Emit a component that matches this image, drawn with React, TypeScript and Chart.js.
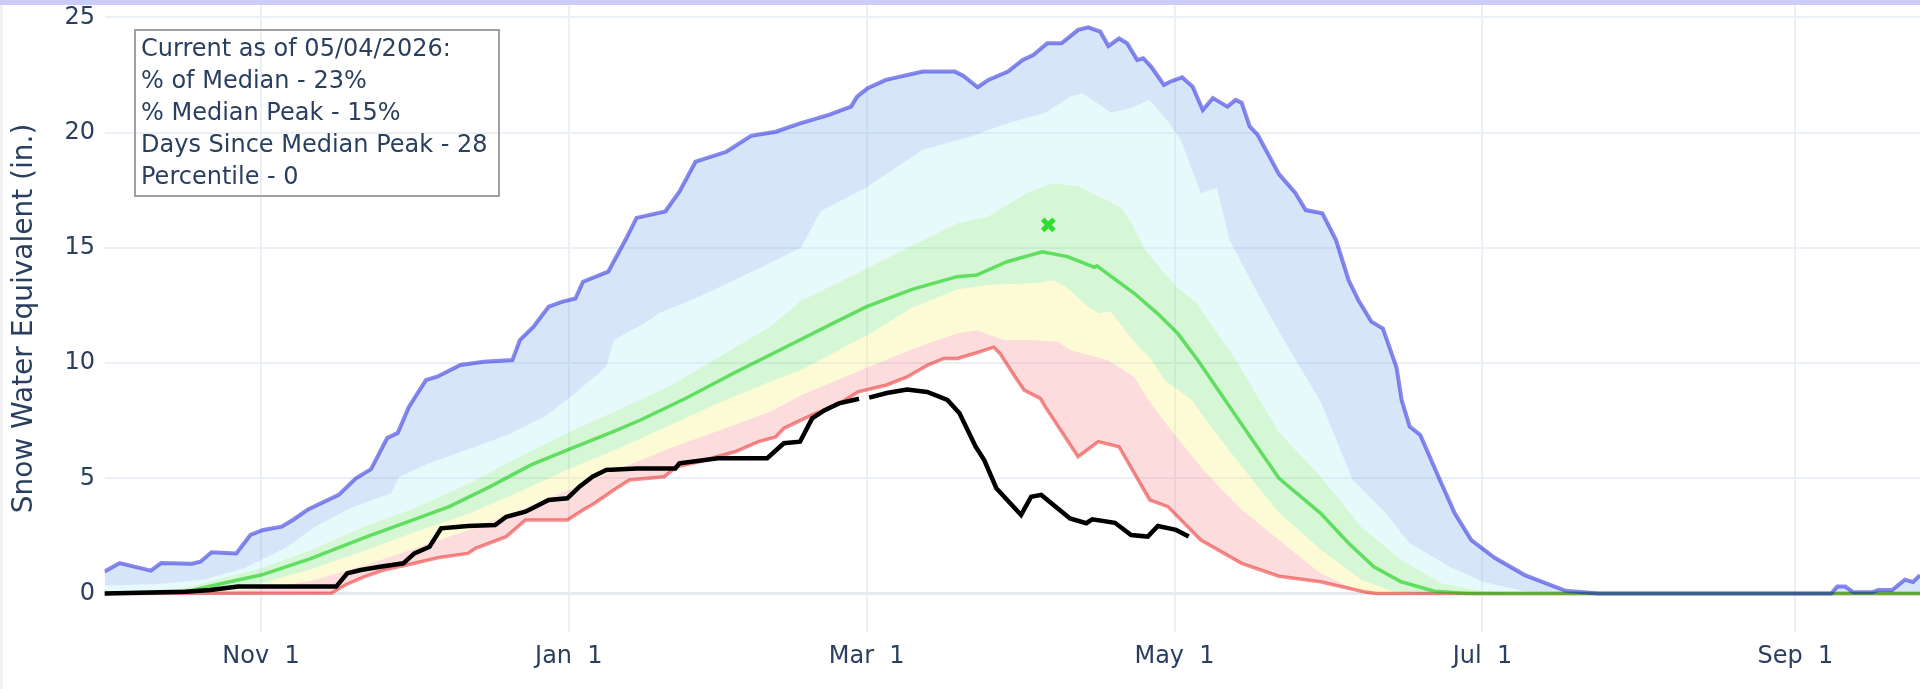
import React, { useEffect, useRef } from 'react';
import { Chart, registerables } from 'chart.js';

Chart.register(...registerables);

// x = days since Oct 1 (water year), y = snow water equivalent (in.)
const tickDays = [31, 92, 151, 212, 273, 335];
const tickLabels = ['Nov  1', 'Jan  1', 'Mar  1', 'May  1', 'Jul  1', 'Sep  1'];
const yTicks = [0, 5, 10, 15, 20, 25];

const infoLines = [
  'Current as of 05/04/2026:',
  '% of Median - 23%',
  '% Median Peak - 15%',
  'Days Since Median Peak - 28',
  'Percentile - 0',
];

const minSwe: [number, number][] = [
  [0, 0], [45, 0.02], [47.7, 0.37], [51.5, 0.73], [55.3, 1.02], [61.4, 1.31], [66, 1.55], [72, 1.74],
  [73.5, 1.96], [79.6, 2.47], [83.4, 3.19], [91.7, 3.19], [94.8, 3.62], [97, 3.91], [100.9, 4.49],
  [104, 4.93], [110.9, 5.07], [113.3, 5.5], [117.8, 5.72], [124.9, 6.15], [129.6, 6.59], [133, 6.8],
  [134.6, 7.17], [140.2, 7.75], [145.1, 8.18], [149.3, 8.75], [155, 9.05], [159, 9.4], [163, 9.9],
  [166.3, 10.2], [169, 10.2], [172.8, 10.45], [176.2, 10.69], [177.4, 10.42], [180.4, 9.41],
  [182.2, 8.83], [185.4, 8.47], [186.4, 8.1], [192.9, 5.94], [196.9, 6.59], [201, 6.37], [207.1, 4.06],
  [210.7, 3.77], [217.2, 2.32], [225.3, 1.31], [232.7, 0.75], [240.9, 0.51], [249.5, 0.08], [252, 0],
  [359.7, 0],
];

const p10Swe: [number, number][] = [
  [0, 0], [20, 0.04], [31, 0.2], [41, 0.55], [52, 1.25], [62, 2.0], [72, 2.75], [82, 3.6], [92, 4.5],
  [102, 5.4], [112, 6.3], [122, 7.1], [132, 7.9], [138, 8.6], [151, 9.8], [160, 10.6], [169, 11.3],
  [172.8, 11.43], [178.2, 11.0], [184, 11.0], [188.8, 10.93], [191.4, 10.57], [198.7, 10.13], [204, 9.41],
  [206.8, 8.4], [212, 6.9], [218, 5.3], [225, 3.7], [232.7, 2.32], [240.9, 0.88], [247.6, 0.2], [250, 0],
  [359.7, 0],
];

const p30Swe: [number, number][] = [
  [0, 0], [15, 0.05], [24, 0.25], [31, 0.45], [41, 1.05], [52, 1.9], [62, 2.7], [72, 3.45], [82, 4.4],
  [92, 5.4], [102, 6.3], [112, 7.3], [122, 8.3], [132, 9.2], [138, 9.7], [151, 11.2], [160, 12.4],
  [169, 13.2], [175.5, 13.4], [184.2, 13.46], [188, 13.6], [190.5, 13.3], [194.9, 12.45], [197, 12.16],
  [199.4, 12.23], [204, 10.93], [207.5, 10.13], [210, 9.27], [215.4, 8.4], [218, 7.6], [225, 5.6],
  [232.7, 3.5], [241, 1.9], [249, 0.6], [255, 0.1], [260, 0], [359.7, 0],
];

const p70Swe: [number, number][] = [
  [0, 0.05], [15, 0.2], [24, 0.7], [31, 1.1], [41, 1.9], [52, 2.95], [62, 3.75], [72, 4.75], [82, 5.9],
  [92, 7.0], [102, 8.0], [112, 9.0], [122, 10.3], [132, 11.6], [138, 12.7], [151, 14.1], [160, 15.1],
  [169, 16.07], [175, 16.35], [183.2, 17.44], [187.9, 17.8], [193.2, 17.66], [195.8, 17.37],
  [201.2, 16.79], [203.5, 16.07], [206.2, 14.9], [212.4, 13.3], [216.4, 12.6], [224, 10.2], [232.7, 7.0],
  [241, 5.07], [249, 2.9], [257, 1.45], [265, 0.44], [273, 0.1], [280, 0], [359.7, 0],
];

const p90Swe: [number, number][] = [
  [0, 0.35], [10, 0.4], [19.7, 0.6], [27.7, 1.1], [36, 2.0], [41.7, 2.9], [49.3, 3.77], [56.8, 4.35],
  [58.4, 5.07], [64.4, 5.66], [73.5, 6.37], [80, 6.9], [87.2, 7.67], [93.3, 8.7], [99.4, 9.84],
  [100.9, 11.0], [107, 11.73], [110, 12.17], [117.7, 12.87], [129, 14.04], [138, 15.0], [141.9, 16.6],
  [150.8, 17.6], [162.1, 19.26], [171.8, 19.84], [178.2, 20.35], [186.4, 20.86], [191.3, 21.56],
  [193.7, 21.7], [196.2, 21.35], [199.4, 20.86], [203.5, 21.07], [207, 21.43], [210.7, 20.48],
  [213.2, 19.7], [217.2, 17.37], [220.4, 17.6], [222.9, 15.34], [229, 12.8], [235, 10.5], [241, 8.3],
  [247.3, 4.93], [253.8, 3.49], [258.5, 2.19], [266.5, 1.16], [273.3, 0.5], [281.2, 0.1], [290, 0],
  [359.7, 0],
];

const maxSwe: [number, number][] = [
  [0, 0.95], [3, 1.32], [9.2, 0.99], [11.2, 1.32], [17.3, 1.29], [19, 1.38], [21.2, 1.79], [26.1, 1.74],
  [28.9, 2.54], [31.4, 2.76], [35.1, 2.9], [37.3, 3.19], [40.4, 3.66], [46.4, 4.28], [49.8, 5.0],
  [52.8, 5.4], [56, 6.75], [58.1, 6.97], [60.3, 8.1], [63.7, 9.27], [65.9, 9.41], [70.5, 9.92],
  [75.1, 10.06], [80.8, 10.13], [82.3, 11.0], [85, 11.58], [88, 12.45], [90.6, 12.66], [93.3, 12.8],
  [94.8, 13.53], [99.8, 13.97], [103.2, 15.34], [105.4, 16.3], [111.1, 16.58], [113.9, 17.44],
  [117.1, 18.74], [123.2, 19.17], [128.1, 19.86], [133, 20.04], [137.8, 20.4], [143.5, 20.77],
  [147.9, 21.13], [149.1, 21.56], [151.2, 21.93], [154.8, 22.29], [162.1, 22.65], [168.5, 22.65],
  [170.2, 22.46], [173, 21.97], [175.1, 22.29], [179, 22.65], [181.9, 23.16], [184, 23.37], [186.8, 23.88],
  [189.6, 23.88], [192.9, 24.46], [194.9, 24.57], [197.3, 24.38], [198.9, 23.76], [201, 24.09],
  [202.6, 23.88], [204.6, 23.16], [205.8, 23.23], [207.4, 22.86], [209.9, 22.07], [211.1, 22.21],
  [213.5, 22.4], [215.6, 21.99], [217.6, 20.98], [219.6, 21.5], [222.5, 21.13], [224.1, 21.42],
  [225.3, 21.3], [226.9, 20.27], [228.5, 19.9], [232.7, 18.2], [235.9, 17.4], [238, 16.64], [241.3, 16.5],
  [244, 15.34], [246.5, 13.6], [248.5, 12.7], [251, 11.8], [253.3, 11.5], [256, 9.8], [257, 8.4],
  [258.6, 7.24], [260.7, 6.88], [264.3, 5.07], [267.5, 3.49], [270.8, 2.32], [275.5, 1.54], [281.4, 0.8],
  [289.5, 0.12], [296, 0], [342.1, 0], [343.3, 0.3], [344.9, 0.3], [346.5, 0.05], [350.2, 0.05],
  [351.4, 0.15], [354.2, 0.15], [356.7, 0.6], [358.3, 0.5], [359.7, 0.8],
];

const medianSwe: [number, number][] = [
  [0, 0], [10, 0.03], [17, 0.12], [24.6, 0.5], [31, 0.8], [40.7, 1.5], [52, 2.47], [60.2, 3.12],
  [68.3, 3.77], [76.4, 4.64], [84.5, 5.58], [92.5, 6.3], [100.7, 7.02], [106.2, 7.53], [115, 8.45],
  [125, 9.6], [135, 10.7], [145, 11.8], [151, 12.45], [160, 13.2], [168.9, 13.75], [172.8, 13.82],
  [178.8, 14.4], [185.8, 14.83], [190.8, 14.62], [196.1, 14.16], [196.6, 14.22], [204, 13.03],
  [208.6, 12.16], [212.6, 11.3], [216.6, 10.13], [222, 8.4], [227, 6.8], [232.7, 5.0], [240.9, 3.49],
  [246.5, 2.18], [251.5, 1.16], [256.9, 0.51], [263.5, 0.1], [270, 0], [359.7, 0],
];

const currentSwe: [number, number | null][] = [
  [0, 0], [16, 0.08], [21, 0.15], [26.5, 0.3], [45.9, 0.3], [48.1, 0.88], [50.8, 1.02], [54.6, 1.16],
  [59.2, 1.31], [61.4, 1.74], [64.4, 2.03], [66.7, 2.83], [72, 2.93], [77.4, 2.97], [79.6, 3.33],
  [83.4, 3.55], [88, 4.06], [91.7, 4.13], [94.1, 4.64], [96.7, 5.07], [99.4, 5.36], [105.4, 5.43],
  [113.1, 5.43], [113.9, 5.65], [121.6, 5.87], [131.3, 5.87], [134.6, 6.52], [137.8, 6.59], [140.2, 7.6],
  [142.7, 7.96], [145.5, 8.25], [149.5, 8.45], [150.5, null], [151.5, 8.5], [155, 8.7], [159, 8.85],
  [163, 8.75], [167, 8.4], [169.4, 7.82], [172.6, 6.37], [174.3, 5.79], [176.7, 4.57], [181.6, 3.41],
  [183.6, 4.2], [185.6, 4.28], [191.3, 3.26], [194.5, 3.05], [195.7, 3.22], [200.2, 3.07], [203.4, 2.54],
  [206.7, 2.47], [208.7, 2.93], [212.3, 2.76], [214.8, 2.47],
];

const medianPeak: [number, number][] = [[187, 16.0]];

const X_MIN = 0;
const X_MAX = 359.7;
const Y_MIN = -1.67;
const Y_MAX = 25.54;

const FONT = "'DejaVu Sans', Verdana, sans-serif";
const TEXT = '#2a3f5f';

const toXY = (pairs: [number, number | null][]) => pairs.map(([x, y]) => ({ x, y }));

const band = (label: string, data: [number, number][], color: string, order: number) => ({
  label,
  data: toXY(data),
  borderColor: 'rgba(0,0,0,0)',
  borderWidth: 0,
  backgroundColor: color,
  fill: '-1',
  pointRadius: 0,
  pointBorderWidth: 0,
  tension: 0,
  order,
});

export default function App() {
  const ref = useRef<HTMLCanvasElement>(null);

  useEffect(() => {
    document.body.style.margin = '0';
    const canvas = ref.current;
    if (!canvas) return;
    const chart = new Chart(canvas, {
      type: 'line',
      data: {
        datasets: [
          {
            label: 'Min',
            data: toXY(minSwe),
            borderColor: 'rgba(230,0,0,0.45)',
            borderWidth: 3.5,
            backgroundColor: 'rgba(0,0,0,0)',
            fill: false,
            pointRadius: 0,
            pointBorderWidth: 0,
            tension: 0,
            order: 3,
          },
          band('10%', p10Swe, 'rgba(245,138,138,0.3)', 9),
          band('30%', p30Swe, 'rgba(248,242,115,0.3)', 8),
          band('70%', p70Swe, 'rgba(115,228,115,0.3)', 7),
          band('90%', p90Swe, 'rgba(172,238,245,0.3)', 6),
          {
            label: 'Max',
            data: toXY(maxSwe),
            borderColor: 'rgba(20,20,220,0.5)',
            borderWidth: 4,
            backgroundColor: 'rgba(118,172,232,0.3)',
            fill: '-1',
            pointRadius: 0,
            pointBorderWidth: 0,
            tension: 0,
            order: 1,
          },
          {
            label: 'Median',
            data: toXY(medianSwe),
            borderColor: 'rgba(0,200,0,0.55)',
            borderWidth: 3.5,
            fill: false,
            pointRadius: 0,
            pointBorderWidth: 0,
            tension: 0,
            order: 2,
          },
          {
            label: 'Current',
            data: toXY(currentSwe),
            borderColor: '#000000',
            borderWidth: 4.5,
            fill: false,
            pointRadius: 0,
            pointBorderWidth: 0,
            tension: 0,
            spanGaps: false,
            order: 0,
          },
          {
            label: 'Median Peak',
            data: toXY(medianPeak),
            showLine: false,
            pointStyle: 'crossRot',
            pointRadius: 8,
            pointBorderWidth: 5,
            borderColor: 'rgb(50,220,50)',
            pointBorderColor: 'rgb(50,220,50)',
            fill: false,
            order: 0,
          },
        ] as any,
      },
      options: {
        responsive: false,
        animation: false,
        events: [],
        layout: { autoPadding: false, padding: { top: 5, left: 0, right: 0, bottom: 0 } },
        plugins: {
          legend: { display: false },
          tooltip: { enabled: false },
          filler: { drawTime: 'beforeDatasetsDraw' },
        } as any,
        scales: {
          x: {
            type: 'linear',
            min: X_MIN,
            max: X_MAX,
            border: { display: false },
            grid: { color: 'rgb(235,240,248)', lineWidth: 2, drawTicks: false },
            ticks: {
              autoSkip: false,
              maxRotation: 0,
              padding: 10,
              color: TEXT,
              font: { family: FONT, size: 24 },
              callback: (_v: any, i: number) => tickLabels[i],
            },
            afterBuildTicks: (s: any) => {
              s.ticks = tickDays.map((v) => ({ value: v }));
            },
            afterFit: (s: any) => {
              s.height = 57;
              s.paddingLeft = 0;
              s.paddingRight = 0;
            },
          },
          y: {
            type: 'linear',
            min: Y_MIN,
            max: Y_MAX,
            border: { display: false },
            grid: {
              color: (c: any) => (c.tick && c.tick.value === 0 ? 'rgb(228,233,242)' : 'rgb(235,240,248)'),
              lineWidth: (c: any) => (c.tick && c.tick.value === 0 ? 3 : 2),
              drawTicks: false,
            },
            ticks: {
              padding: 9.5,
              color: TEXT,
              font: { family: FONT, size: 24 },
              callback: (v: any) => String(v),
            },
            afterBuildTicks: (s: any) => {
              s.ticks = yTicks.map((v) => ({ value: v }));
            },
            title: {
              display: true,
              text: 'Snow Water Equivalent (in.)',
              color: TEXT,
              font: { family: FONT, size: 28 },
              padding: { top: 7.7, bottom: 0 },
            },
            afterFit: (s: any) => {
              s.width = 104.5;
              s.paddingTop = 0;
              s.paddingBottom = 0;
            },
          },
        } as any,
      },
    });
    return () => chart.destroy();
  }, []);

  return (
    <div style={{ position: 'relative', width: 1920, height: 689, background: '#ffffff', overflow: 'hidden' }}>
      <canvas ref={ref} width={1920} height={689} style={{ position: 'absolute', left: 0, top: 0, width: 1920, height: 689 }} />
      <div style={{ position: 'absolute', left: 0, top: 0, width: 1920, height: 5, background: 'rgb(204,204,250)' }} />
      <div style={{ position: 'absolute', left: 0, top: 5, width: 3, height: 684, background: '#f2f2f2' }} />
      <div
        style={{
          position: 'absolute',
          left: 134,
          top: 29,
          width: 366,
          height: 168,
          boxSizing: 'border-box',
          border: '2px solid #a0a0a0',
          paddingLeft: 5,
          paddingTop: 1,
          fontFamily: FONT,
          fontSize: 24,
          lineHeight: '32px',
          color: TEXT,
          whiteSpace: 'nowrap',
        }}
      >
        {infoLines.map((t, i) => (
          <div key={i}>{t}</div>
        ))}
      </div>
    </div>
  );
}
